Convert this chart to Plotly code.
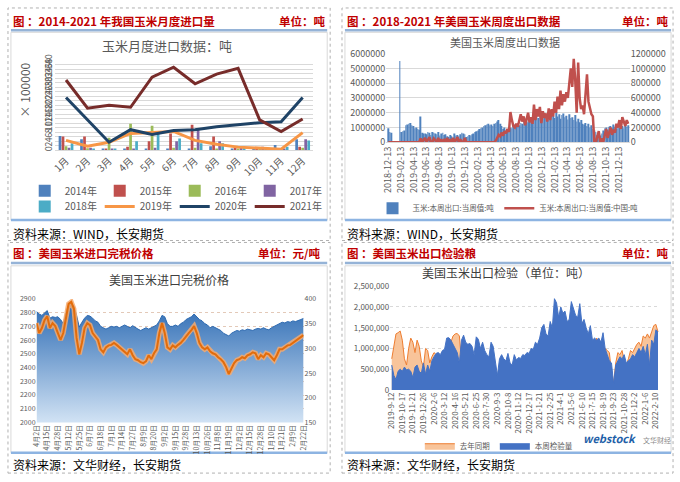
import plotly.graph_objects as go
import pandas as pd

W, H = 680, 482
def fx(p): return p / W
def fy(p): return 1 - p / H

FONT = "Noto Sans CJK SC"
GRAY = "#595959"
RED = "#C00000"

# ---------------- Panel 1: China monthly corn imports (x100000 t) ----------------
months = ["1月", "2月", "3月", "4月", "5月", "6月", "7月", "8月", "9月", "10月", "11月", "12月"]
imp2014 = [6.3, 4.8, 0.3, 0.5, 0.5, 0.5, 0.5, 1.7, 0.5, 0.5, 2.2, 4.8]
imp2015 = [6.1, 6.0, 0.3, 1.5, 3.9, 7.4, 11.3, 6.1, 1.0, 1.0, 0.5, 1.5]
imp2016 = [1.7, 0.8, 5.5, 11.7, 10.9, 1.0, 1.0, 0.5, 0.3, 0.3, 0.3, 1.0]
imp2017 = [1.0, 1.0, 0.5, 0.5, 1.0, 3.9, 9.6, 3.9, 1.5, 1.5, 0.5, 4.8]
imp2018 = [3.0, 0.5, 0.5, 3.9, 7.4, 5.2, 3.0, 3.0, 1.0, 1.0, 1.5, 4.3]
imp2019 = [4.3, 1.7, 3.5, 7.4, 7.8, 8.3, 4.3, 2.6, 1.3, 0.9, 0.4, 7.8]
imp2020 = [23.5, 13.5, 3.5, 9.1, 7.0, 8.7, 9.1, 10.4, 11.3, 12.2, 12.6, 23.5]
imp2021 = [31.3, 18.7, 20.0, 19.1, 32.6, 37.0, 29.6, 33.9, 36.5, 13.5, 8.3, 13.9]

# ---------------- Panel 2: US weekly corn exports (thousand t) ----------------
week_dates2 = pd.date_range("2018-12-13", periods=164, freq="7D")
us_export_total_kt = [
    950, 700, 650, 0, 0, 0, 0, 0, 5500,
    700, 750, 800, 1150, 1200, 1250, 1300, 1150, 1100, 950, 1000, 900, 850, 1750, 650, 600,
    600, 550, 700, 650, 500, 700, 650, 600, 550, 700, 450, 600, 650, 500, 550, 400,
    350, 500, 400, 300, 600, 450, 500, 400, 550, 650, 600, 550, 350, 400, 500, 450,
    550, 600, 700, 750, 800, 900, 950, 1000, 1100, 1150, 1200, 1250, 1150, 1200, 1100, 1250,
    1300, 1400, 1500, 1250, 1100, 900, 1000, 800, 850, 900, 1000, 950, 1100, 1200, 1050, 1300,
    1150, 1300, 1250, 1400, 1200, 1500, 1350, 1600, 1450, 1300, 1700, 1550, 1800, 1650, 1900, 1500,
    1600, 1750, 1850, 1500, 1950, 1700, 2000, 1800, 1650, 2050, 1750, 1900, 1600, 1850, 1950, 1700,
    1800, 1550, 1900, 1650, 1700, 1500, 1850, 1400, 1600, 1350, 1500, 1250, 1200, 1300, 1100, 1250,
    1000, 1150, 900, 800, 700, 500, 350, 450, 600, 800, 950, 1000, 850, 1050,
    1100, 950, 1200, 1050, 900, 1150, 1000, 1250, 1100, 950, 1200, 1050, 1150,
]
us_export_china_kt = [
    0, 0, 0, 0, 0, 0, 0, 0, 0, 0, 0, 0, 0, 0, 0, 0, 0, 0, 0, 0, 0, 0,
    50, 0, 30, 60, 0, 40, 70, 0, 0, 50, 30, 0, 60, 0, 40, 0, 30, 0, 60,
    0, 40, 0, 60, 0, 30, 70, 0, 40, 0, 0, 60, 0, 0, 0,
    0, 0, 0, 0, 0, 0, 0, 0, 0, 0, 0, 0, 0, 0, 0, 0, 0,
    20, 60, 100, 80, 130, 90, 150, 120, 180, 140,
    410, 300, 220, 200, 250, 210, 300, 380, 280, 350, 230, 320, 400, 270, 340, 250,
    510, 300, 450, 350, 480, 260, 420, 330, 390, 280, 460, 300,
    450, 350, 550, 400, 620, 450, 700, 500, 650, 550, 680, 600,
    820, 1000, 750, 1130, 850, 400, 1080, 600, 450, 500, 380, 700, 920, 550, 450, 380,
    350, 0, 0, 100, 150, 0, 50, 0,
    120, 180, 60, 150, 200, 100, 170, 130,
    250, 200, 300, 180, 340, 280, 220, 300, 250,
]
ticks2 = ["2018-12-13", "2019-02-13", "2019-04-13", "2019-06-13", "2019-08-13", "2019-10-13",
          "2019-12-13", "2020-02-13", "2020-04-13", "2020-06-13", "2020-08-13", "2020-10-13",
          "2020-12-13", "2021-02-13", "2021-04-13", "2021-06-13", "2021-08-13", "2021-10-13",
          "2021-12-13"]

# ---------------- Panel 3: duty-paid import price ----------------
price_labels3 = ["4月2日", "4月15日", "4月28日", "5月12日", "5月25日", "6月7日", "6月18日", "7月1日",
                 "7月14日", "7月27日", "8月9日", "8月20日", "9月2日", "9月15日", "9月28日", "10月13日",
                 "10月26日", "11月8日", "11月19日", "12月2日", "12月15日", "12月28日", "1月10日",
                 "1月21日", "2月9日", "2月22日"]
duty_paid_price = [
    2808, 2790, 2780, 2800, 2815, 2760, 2770, 2765, 2770, 2750,
    2720, 2800, 2860, 2865, 2850, 2780, 2695, 2730, 2760, 2780,
    2775, 2760, 2740, 2730, 2700, 2690, 2680, 2690, 2700, 2695,
    2700, 2690, 2700, 2710, 2700, 2690, 2705, 2690, 2680, 2670,
    2680, 2690, 2680, 2690, 2700, 2710, 2740, 2780, 2770, 2720,
    2700, 2700, 2710, 2700, 2720, 2730, 2750, 2760, 2770, 2790,
    2770, 2750, 2740, 2720, 2710, 2690, 2700, 2690, 2680, 2670,
    2650, 2640, 2630, 2650, 2660, 2670, 2665, 2675, 2670, 2680,
    2675, 2670, 2680, 2685, 2680, 2690, 2680, 2675, 2690, 2700,
    2710, 2720, 2730, 2725, 2735, 2730, 2740, 2735, 2745, 2750,
    2758,
]
us_fob_price = [
    351, 331, 341, 357, 365, 341, 351, 345, 331, 317,
    331, 361, 390, 394, 380, 321, 288, 311, 341, 351,
    347, 331, 325, 317, 298, 292, 302, 306, 307, 311,
    307, 302, 298, 292, 288, 298, 286, 278, 276, 272,
    270, 274, 286, 278, 290, 298, 331, 351, 331, 302,
    298, 306, 302, 307, 311, 317, 325, 331, 337, 345,
    331, 311, 302, 298, 302, 294, 290, 288, 282, 278,
    272, 262, 248, 258, 270, 276, 278, 282, 280, 286,
    288, 292, 290, 278, 286, 282, 290, 288, 282, 276,
    286, 298, 298, 302, 306, 307, 311, 315, 319, 323,
    327,
]

# ---------------- Panel 4: US export inspections (thousand t) ----------------
_d4 = pd.date_range("2019-09-12", "2022-02-17", freq="7D")
_d4 = _d4[_d4 != pd.Timestamp("2020-01-02")]
weeks4 = [f"{d.year}-{d.month}-{d.day}" for d in _d4]
inspect_this_week_kt = [
    600, 350, 250, 450, 500, 450, 550, 480, 500, 450,
    300, 550, 600, 450, 400, 650, 380, 600, 450, 700,
    800, 880, 900, 850, 950, 980, 1250, 1260, 1200, 1100,
    1000, 900, 650, 1200, 1320, 1150, 1100, 1120, 1050, 850,
    1280, 1220, 1000, 1150, 950, 850, 800, 1150, 1050, 700,
    350, 750, 850, 750, 700, 880, 650, 600, 850, 720,
    780, 760, 850, 830, 900, 880, 1000, 980, 1150, 1100,
    1250, 1500, 1580, 1350, 1300, 1650, 1500, 2200, 2100, 1750,
    2000, 1850, 1900, 1650, 1700, 2130, 1950, 1800, 1750, 2080,
    1600, 1700, 1500, 1350, 1550, 1200, 1250, 1200, 1250, 1150,
    1380, 1000, 850, 700, 650, 150, 600, 700, 800, 750,
    850, 650, 700, 750, 850, 800, 900, 1000, 900, 1050,
    850, 1100, 600, 1200, 1100, 1450, 1400,
]
inspect_last_year_kt = [
    750, 1100, 1350, 1380, 1420, 1200, 750, 600, 1000, 1250,
    1150, 900, 1200, 1050, 700, 550, 1000, 950, 650, 800,
    900, 850, 820, 800, 780, 800, 900, 1000, 1150, 1300,
    1350, 1360, 1300, 700, 900, 800, 800, 700, 700, 650,
    700, 700, 650, 650, 600, 600, 600, 550, 600, 500,
    300, 400, 500, 500, 500, 600, 550, 500, 550, 500,
    550, 550, 550, 600, 600, 600, 650, 650, 700, 750,
    800, 800, 850, 850, 900, 900, 900, 1000, 1000, 950,
    900, 900, 950, 1000, 1050, 1100, 1100, 1050, 1000, 950,
    900, 900, 850, 800, 800, 750, 750, 1250, 1000, 850,
    900, 1000, 950, 900, 400, 150, 650, 900, 850, 950,
    700, 600, 750, 950, 900, 1000, 1100, 1150, 1050, 1300,
    1250, 1350, 1250, 1400, 1550, 1580, 1400,
]

fig = go.Figure()

# ---- Panel 1 traces ----
bar_specs = [("2014年", imp2014, "#4F81BD", "legend"), ("2015年", imp2015, "#C0504D", "legend"),
             ("2016年", imp2016, "#9BBB59", "legend"), ("2017年", imp2017, "#8064A2", "legend"),
             ("2018年", imp2018, "#4BACC6", "legend2")]
for name, vals, col, leg in bar_specs:
    fig.add_trace(go.Bar(x=months, y=vals, name=name, marker_color=col, marker_line_width=0,
                         xaxis="x", yaxis="y", legend=leg))
line_specs = [("2019年", imp2019, "#F79646"), ("2020年", imp2020, "#1F4366"), ("2021年", imp2021, "#772C2A")]
for name, vals, col in line_specs:
    fig.add_trace(go.Scatter(x=months, y=vals, name=name, mode="lines", line=dict(color=col, width=3),
                             xaxis="x", yaxis="y", legend="legend2"))

# ---- Panel 2 traces ----
fig.add_trace(go.Bar(x=week_dates2, y=[v * 1000 for v in us_export_total_kt], name="玉米:本周出口:当周值:吨",
                     marker_color="#4F81BD", marker_line_width=0, width=0.45 * 7 * 86400000,
                     xaxis="x2", yaxis="y2", legend="legend3"))
fig.add_trace(go.Scatter(x=week_dates2, y=[v * 1000 for v in us_export_china_kt], name="玉米:本周出口:当周值:中国:吨",
                         mode="lines", line=dict(color="#C0504D", width=2.5),
                         xaxis="x2", yaxis="y3", legend="legend3"))

# ---- Panel 3 traces ----
idx3 = list(range(len(duty_paid_price)))
fig.add_trace(go.Scatter(x=idx3, y=duty_paid_price, mode="lines", fill="tozeroy",
                         line=dict(color="#2E6AB0", width=1),
                         fillgradient=dict(type="vertical", colorscale=[[0, "#D6E6F6"], [1, "#2F6DB5"]],
                                           start=2000, stop=2860),
                         xaxis="x3", yaxis="y4", showlegend=False))
fig.add_trace(go.Scatter(x=idx3, y=us_fob_price, mode="lines", line=dict(color="rgba(246,170,110,0.85)", width=5),
                         xaxis="x3", yaxis="y5", showlegend=False))
fig.add_trace(go.Scatter(x=idx3, y=us_fob_price, mode="lines", line=dict(color="#E36C0A", width=2),
                         xaxis="x3", yaxis="y5", showlegend=False))

# ---- Panel 4 traces ----
fig.add_trace(go.Scatter(x=weeks4, y=[v * 1000 for v in inspect_last_year_kt], name="去年同期", mode="lines",
                         fill="tozeroy", fillcolor="#F8C49A", line=dict(color="#ED7D31", width=1),
                         xaxis="x4", yaxis="y6", legend="legend4"))
fig.add_trace(go.Scatter(x=weeks4, y=[v * 1000 for v in inspect_this_week_kt], name="本周检验量", mode="lines",
                         fill="tozeroy", fillcolor="#4472C4", line=dict(color="#4472C4", width=1),
                         xaxis="x4", yaxis="y6", legend="legend4"))

tf = lambda s: dict(size=s, color=GRAY, family=FONT)

layout = dict(
    width=W, height=H, autosize=False, margin=dict(l=0, r=0, t=0, b=0),
    paper_bgcolor="white", plot_bgcolor="rgba(0,0,0,0)",
    font=dict(family=FONT, color=GRAY),
    barmode="group", bargap=0.3, bargroupgap=0.1,
    xaxis=dict(domain=[fx(50), fx(312)], anchor="y", type="category", tickangle=-45, tickfont=tf(10),
               showgrid=False, showline=True, linecolor="#D9D9D9", ticks=""),
    yaxis=dict(domain=[fy(147), fy(55)], anchor="x", range=[0, 40], dtick=2, tickangle=-90, tickfont=tf(9),
               gridcolor="#D9D9D9", zeroline=False, showline=False, ticks=""),
    xaxis2=dict(domain=[fx(386), fx(633)], anchor="y2", type="date", range=["2018-12-04", "2022-02-03"],
                tickmode="array", tickvals=ticks2, ticktext=ticks2, tickangle=-90, tickfont=tf(9),
                showgrid=False, showline=True, linecolor="#D9D9D9", ticks=""),
    yaxis2=dict(domain=[fy(139), fy(48)], anchor="x2", range=[0, 6000000], dtick=1000000, tickformat="d",
                tickfont=tf(9), gridcolor="#D9D9D9", zeroline=False, ticks=""),
    yaxis3=dict(overlaying="y2", anchor="x2", side="right", range=[0, 1200000], dtick=200000, tickformat="d",
                tickfont=tf(9), showgrid=False, zeroline=False, ticks=""),
    xaxis3=dict(domain=[fx(31), fx(302)], anchor="y4", range=[0, len(duty_paid_price) - 1],
                tickmode="array", tickvals=idx3[::4], ticktext=price_labels3, tickangle=-90, tickfont=tf(7),
                showgrid=False, showline=False, ticks=""),
    yaxis4=dict(domain=[fy(427), fy(300)], anchor="x3", range=[2000, 2900], dtick=100, tickfont=tf(7),
                gridcolor="#E3C9B8", griddash="dot", zeroline=False, ticks=""),
    yaxis5=dict(overlaying="y4", anchor="x3", side="right", range=[150, 400], dtick=50, tickfont=tf(7),
                showgrid=False, zeroline=False, ticks=""),
    xaxis4=dict(domain=[fx(390), fx(663)], anchor="y6", type="category", range=[-0.7, len(weeks4) - 0.4],
                tickmode="array", tickvals=weeks4[::5], ticktext=weeks4[::5], tickangle=-90, tickfont=tf(8),
                showgrid=False, showline=False, ticks=""),
    yaxis6=dict(domain=[fy(393.5), fy(287)], anchor="x4", range=[0, 2500000], dtick=500000, tickformat=",d",
                tickfont=tf(8), gridcolor="#D9D9D9", griddash="dot", zeroline=False, ticks=""),
    legend=dict(x=fx(19), y=fy(174), xanchor="left", yanchor="top", orientation="h", font=tf(10),
                bgcolor="rgba(0,0,0,0)", entrywidth=30, traceorder="normal"),
    legend2=dict(x=fx(19), y=fy(190), xanchor="left", yanchor="top", orientation="h", font=tf(10),
                 bgcolor="rgba(0,0,0,0)", entrywidth=30, traceorder="normal"),
    legend3=dict(x=fx(372), y=fy(192), xanchor="left", yanchor="top", orientation="h", font=tf(7.5),
                 bgcolor="rgba(0,0,0,0)", traceorder="normal"),
    legend4=dict(x=fx(420), y=fy(436), xanchor="left", yanchor="top", orientation="h", font=tf(7.5),
                 bgcolor="rgba(0,0,0,0)", traceorder="normal"),
)
fig.update_layout(**layout)

shapes = []
def rect(x0, y0, x1, y1, color, width=1, dash="solid", fill=None, layer="below"):
    shapes.append(dict(type="rect", xref="paper", yref="paper", x0=fx(x0), x1=fx(x1), y0=fy(y1), y1=fy(y0),
                       line=dict(color=color, width=width, dash=dash), fillcolor=fill, layer=layer))
def hline(x0, x1, y, color, width=1, dash="solid"):
    shapes.append(dict(type="line", xref="paper", yref="paper", x0=fx(x0), x1=fx(x1), y0=fy(y), y1=fy(y),
                       line=dict(color=color, width=width, dash=dash), layer="below"))

# cell borders
for (x0, y0, x1, y1) in [(2, 1, 329, 240), (341, 1, 677, 240), (2, 242, 329, 479), (341, 242, 677, 479)]:
    rect(x0, y0, x1, y1, "#B0B0B0", 1, "dot")
# chart boxes
for (x0, y0, x1, y1) in [(5, 26, 326, 219), (344, 26, 675, 219), (5, 266, 326, 458), (344, 266, 675, 458)]:
    rect(x0, y0, x1, y1, "#D9D9D9", 1, "solid", "white")
# header underlines and box bottoms
for (x0, x1, y) in [(5, 326, 24), (344, 675, 24), (5, 326, 263), (344, 675, 263)]:
    hline(x0, x1, y, "#95B3D7", 2.5)
for (x0, x1, y) in [(5, 326, 219), (344, 675, 219), (5, 326, 458), (344, 675, 458)]:
    hline(x0, x1, y, "#8DB4E2", 2.5)

ann = []
def text(x, y, s, size, color, xanchor="left", bold=False, angle=0, family=FONT):
    ann.append(dict(xref="paper", yref="paper", x=fx(x), y=fy(y), text=f"<b>{s}</b>" if bold else s,
                    showarrow=False, xanchor=xanchor, yanchor="middle", textangle=angle,
                    font=dict(size=size, color=color, family=family)))

# headers
text(5, 14, "图 ：2014-2021 年我国玉米月度进口量", 11.5, RED, bold=True)
text(327, 14, "单位：吨", 11.5, RED, "right", bold=True)
text(344, 14, "图 ：2018-2021 年美国玉米周度出口数据", 11.5, RED, bold=True)
text(675, 14, "单位：吨", 11.5, RED, "right", bold=True)
text(5, 253, "图 ：美国玉米进口完税价格", 11.5, RED, bold=True)
text(321, 253, "单位：元/吨", 11.5, RED, "right", bold=True)
text(344, 253, "图 ：美国玉米出口检验粮", 11.5, RED, bold=True)
text(675, 253, "单位：吨", 11.5, RED, "right", bold=True)
# sources
text(5, 233, "资料来源：WIND，长安期货", 12, "#000000")
text(344, 233, "资料来源：WIND，长安期货", 12, "#000000")
text(5, 470, "资料来源：文华财经，长安期货", 12, "#000000")
text(344, 470, "资料来源：文华财经，长安期货", 12, "#000000")
# chart titles
text(163, 40, "玉米月度进口数据：吨", 13, GRAY, "center")
text(506, 36, "美国玉米周度出口数据", 11, GRAY, "center")
text(165, 280, "美国玉米进口完税价格", 12, "#404040", "center")
text(507, 273, "美国玉米出口检验（单位：吨）", 12, "#404040", "center")
text(19, 85, "× 100000", 12, GRAY, "center", angle=-90)
# logo
text(641, 443, "<b><i>webstock</i></b>", 11, "#1F5FA8", "right")
text(644, 445, "文华财经", 7, "#8C8C8C")

fig.update_layout(shapes=shapes, annotations=ann)
fig.write_html("out.html")
